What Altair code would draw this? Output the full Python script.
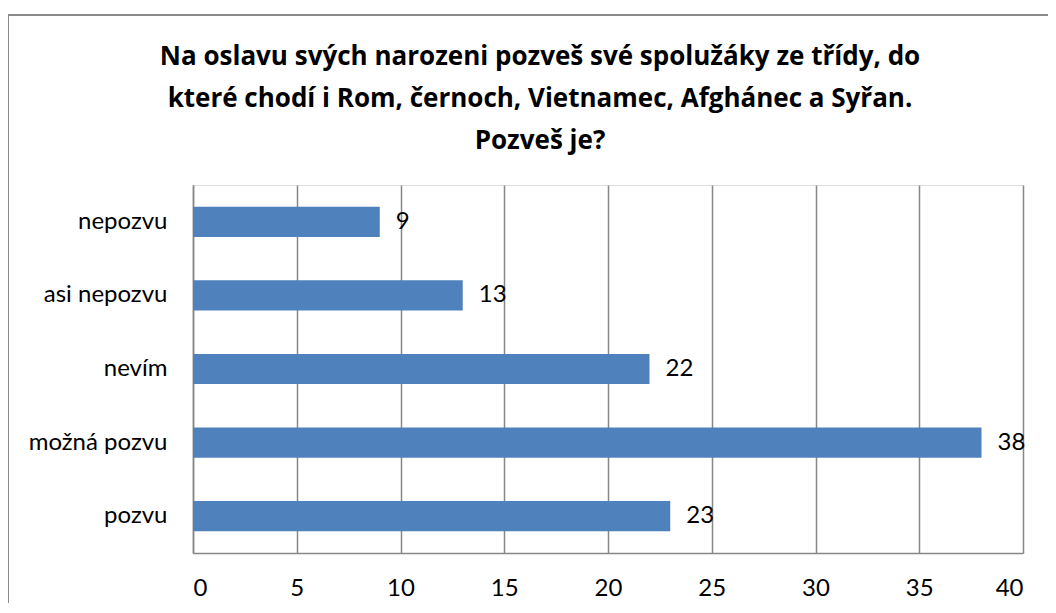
import altair as alt
import pandas as pd

categories = ["nepozvu", "asi nepozvu", "nevím", "možná pozvu", "pozvu"]
values = [9, 13, 22, 38, 23]
x_ticks = [0, 5, 10, 15, 20, 25, 30, 35, 40]
title_lines = [
    "Na oslavu svých narozeni pozveš své spolužáky ze třídy, do",
    "které chodí i Rom, černoch, Vietnamec, Afghánec a Syřan.",
    "Pozveš je?",
]

df = pd.DataFrame({"cat": categories, "val": values})
tdf = pd.DataFrame({"t": ["\n".join(title_lines)]})

FONT = "Lato"
TFONT = "Open Sans"
GRID = "#878787"
FS = 24

x_enc = alt.X(
    "val:Q",
    scale=alt.Scale(domain=[0, 40], nice=False),
    axis=alt.Axis(
        values=x_ticks, title=None, grid=True, gridColor=GRID, gridWidth=1.5,
        domainColor=GRID, domainWidth=1.5, ticks=False, labelPadding=23,
        labelFontSize=FS, labelFont=FONT, labelColor="#000000",
    ),
)
y_enc = alt.Y(
    "cat:N",
    sort=categories,
    scale=alt.Scale(paddingInner=0.59, paddingOuter=0.295),
    axis=alt.Axis(
        title=None, ticks=False, domainColor=GRID, domainWidth=1.5,
        labelPadding=26, labelFontSize=FS, labelFont=FONT, labelColor="#000000",
    ),
)

bars = alt.Chart(df).mark_bar(color="#4F81BD").encode(x=x_enc, y=y_enc)
labels = alt.Chart(df).mark_text(
    align="left", baseline="middle", dx=16, fontSize=FS, font=FONT, color="#000000"
).encode(x="val:Q", y=alt.Y("cat:N", sort=categories), text="val:Q")

frame = alt.Chart(df).mark_rect(
    fill=None, stroke="#8a8a8a", strokeWidth=2, clip=False
).encode(
    x=alt.value(-185), x2=alt.value(900), y=alt.value(-170), y2=alt.value(600)
)

title = alt.Chart(tdf).mark_text(
    align="center", baseline="middle", lineBreak="\n", lineHeight=42,
    font=TFONT, fontSize=26, fontWeight="bold", color="#000000",
).encode(x=alt.value(347), y=alt.value(-128), text="t:N")

chart = alt.layer(frame, bars, labels, title).properties(
    width=830,
    height=368,
    autosize=alt.AutoSizeParams(type="none"),
    padding={"left": 185, "top": 177, "right": 25, "bottom": 50},
).configure_view(stroke=None).configure(background="white")

chart.save("out.html", embed_options={"renderer": "svg", "actions": False})
